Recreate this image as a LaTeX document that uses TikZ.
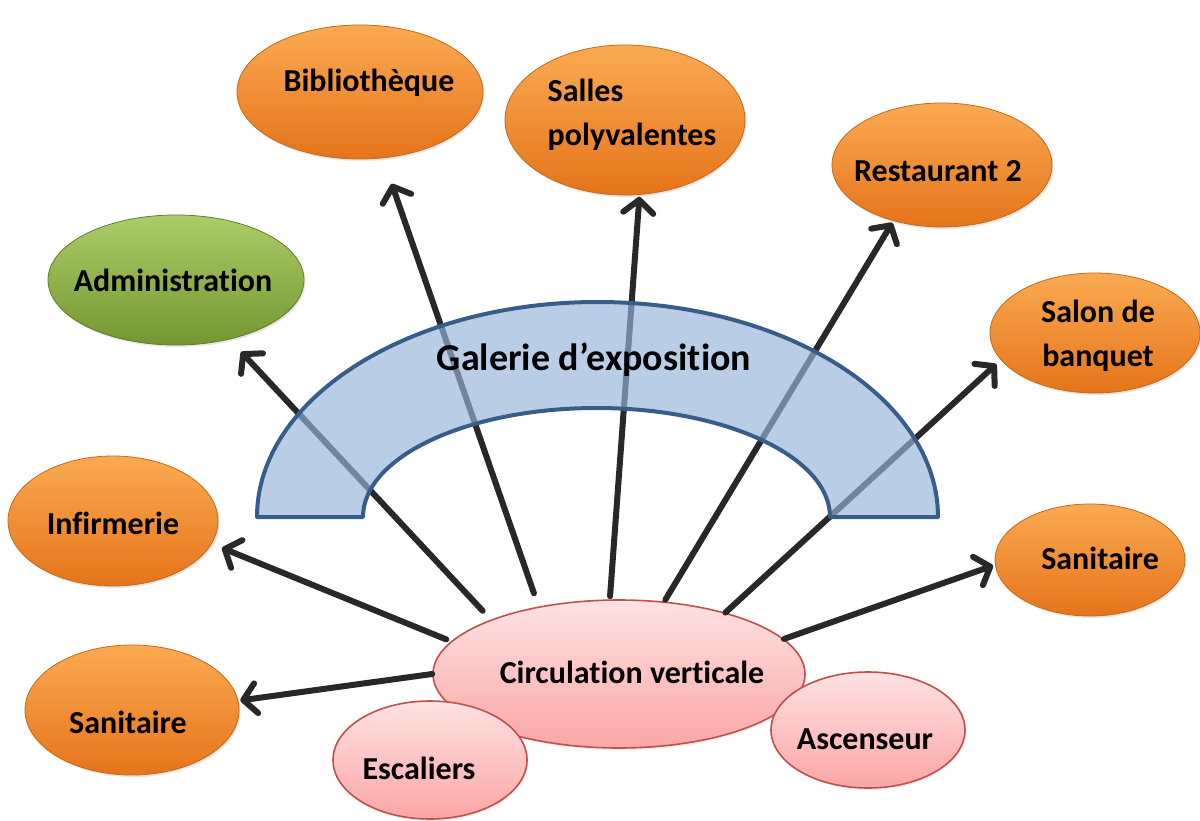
\documentclass[tikz,border=0pt]{standalone}
\usepackage{fontspec}
\setmainfont{Carlito}[Ligatures=NoCommon]
\usetikzlibrary{arrows.meta,shapes.geometric,shadows}

\definecolor{orangeTop}{RGB}{251,170,82}
\definecolor{orangeBot}{RGB}{229,116,26}
\definecolor{orangeLine}{RGB}{196,104,28}
\definecolor{greenTop}{RGB}{172,204,104}
\definecolor{greenBot}{RGB}{116,150,48}
\definecolor{greenLine}{RGB}{98,128,42}
\definecolor{pinkTop}{RGB}{255,226,226}
\definecolor{pinkBot}{RGB}{250,166,166}
\definecolor{pinkLine}{RGB}{192,80,77}
\definecolor{galFill}{RGB}{151,180,218}
\definecolor{galLine}{RGB}{56,93,138}
\definecolor{linkGrey}{RGB}{40,40,40}

% text of a bubble, kept out of the ellipse size; #2 = x shift, #3 = raise
\newcommand{\bubtext}[4][c]{\makebox[0pt]{\hspace*{#2}\hspace*{#2}\raisebox{\dimexpr#3-8.5pt\relax}[0pt][0pt]{\begin{tabular}{@{}#1@{}}#4\end{tabular}}}}

\tikzset{
  bubble/.style={ellipse, inner sep=0pt, font=\fontsize{32}{44}\selectfont\bfseries},
  room/.style={bubble, draw=orangeLine, line width=0.8, top color=orangeTop, bottom color=orangeBot,
    drop shadow={opacity=0.2, shadow xshift=1.5pt, shadow yshift=-2pt}},
  greenroom/.style={bubble, draw=greenLine, line width=0.8, top color=greenTop, bottom color=greenBot,
    drop shadow={opacity=0.2, shadow xshift=1.5pt, shadow yshift=-2pt}},
  access/.style={bubble, draw=pinkLine, line width=1.6, top color=pinkTop, bottom color=pinkBot,
    drop shadow={opacity=0.15, shadow xshift=1.5pt, shadow yshift=-2pt}},
  link/.style={draw=linkGrey, line width=6, line cap=round,
    -{Straight Barb[length=13,width=30,line cap=round,line join=round]}},
}

\begin{document}
\begin{tikzpicture}[x=1pt,y=1pt,yscale=-1,xscale=1]
\useasboundingbox (0,0) rectangle (1200,821);

% Rooms
\node [room, minimum width=246, minimum height=134] (biblio) at (360,92) {\bubtext{9pt}{12pt}{Biblioth\`eque}};
\node [room, minimum width=240, minimum height=150] (salles) at (625,120) {\bubtext[l]{7pt}{8pt}{Salles\\polyvalentes}};
\node [room, minimum width=220, minimum height=124] (resto) at (942,165) {\bubtext{-4pt}{-5pt}{Restaurant 2}};
\node [greenroom, minimum width=256, minimum height=130] (admin) at (176,280) {\bubtext{-3pt}{0pt}{Administration}};
\node [room, minimum width=210, minimum height=120] (salon) at (1095,333) {\bubtext{3pt}{0pt}{Salon de\\banquet}};
\node [room, minimum width=210, minimum height=130] (infirm) at (113,521) {\bubtext{0pt}{-2pt}{Infirmerie}};
\node [room, minimum width=190, minimum height=112] (sanright) at (1090,560) {\bubtext{10pt}{2pt}{Sanitaire}};
\node [room, minimum width=214, minimum height=130] (sanleft) at (132,710) {\bubtext{-4pt}{-12pt}{Sanitaire}};

% Vertical circulation
\node [access, minimum width=372, minimum height=148] (circ) at (619,674) {\bubtext{13pt}{2pt}{Circulation verticale}};
\node [access, minimum width=194, minimum height=118] (stairs) at (430,760) {\bubtext{-11pt}{-8pt}{Escaliers}};
\node [access, minimum width=194, minimum height=116] (lift) at (868,730) {\bubtext{-3pt}{-8pt}{Ascenseur}};

% Straight Lines
\draw [link, shorten <=12, shorten >=17] (circ.157) -- (admin.-48);
\draw [link, shorten <=14, shorten >=27] (circ.140) -- (biblio.-71);
\draw [link, shorten <=3, shorten >=2] (circ.97) -- (salles.-79);
\draw [link, shorten <=2, shorten >=2] (circ.58) -- (resto.229);
\draw [link, shorten >=6] (circ.30) -- (salon.196);
\draw [link, shorten >=2] (circ.12) -- (sanright.183);
\draw [link, shorten <=5, shorten >=11] (circ.169) -- (infirm.-13);
\draw [link, shorten >=2] (circ.180) -- (sanleft.5);

% Arch
\draw [draw=galLine, line width=4, line join=round, fill=galFill, fill opacity=0.67]
  (257,517) arc [start angle=180, end angle=360, x radius=340.5, y radius=215]
  -- (830,517) arc [start angle=0, end angle=-180, x radius=233.5, y radius=109] -- cycle;

% Text Node
\node [font=\fontsize{38}{44}\selectfont\bfseries] (galerie) at (594,360) {Galerie d’exposition};
\end{tikzpicture}
\end{document}
